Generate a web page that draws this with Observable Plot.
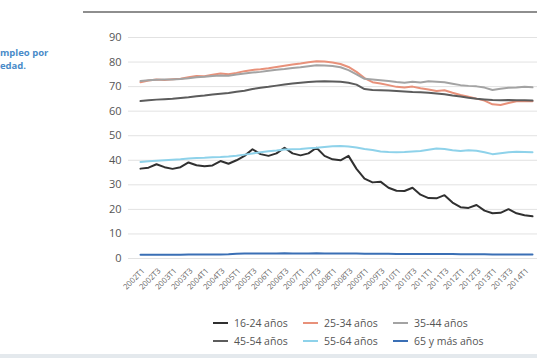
<!DOCTYPE html>
<html><head><meta charset="utf-8">
<script src="https://cdn.jsdelivr.net/npm/d3@7"></script>
<script src="https://cdn.jsdelivr.net/npm/@observablehq/plot@0.6"></script>
<style>
html,body{margin:0;padding:0;background:#fff;}
body{width:537px;height:358px;overflow:hidden;position:relative;font-family:"Open Sans",sans-serif;}
#chart{position:absolute;left:0;top:0;width:570px;}
#chart svg{max-width:none !important;}
.ttl{position:absolute;font-weight:bold;font-size:9.5px;color:#4a8bc9;white-space:nowrap;left:0;}
.topline{position:absolute;left:83px;top:11px;width:460px;height:2px;background:#8e8e8e;}
.bottomband{position:absolute;left:0;top:354px;width:537px;height:4px;background:#e4e9ed;}
.leg{position:absolute;font-size:10.5px;color:#555;white-space:nowrap;display:flex;align-items:center;}
.leg i{display:inline-block;width:15px;height:2px;margin-right:6px;}
</style></head>
<body>
<div class="topline"></div>
<div class="ttl" style="top:46px;">mpleo por</div>
<div class="ttl" style="top:59px;">edad.</div>
<div id="chart"></div>
<div id="legend"></div>
<div class="bottomband"></div>
<script>
const quarters = ["2002T1","2002T2","2002T3","2002T4","2003T1","2003T2","2003T3","2003T4","2004T1","2004T2","2004T3","2004T4","2005T1","2005T2","2005T3","2005T4","2006T1","2006T2","2006T3","2006T4","2007T1","2007T2","2007T3","2007T4","2008T1","2008T2","2008T3","2008T4","2009T1","2009T2","2009T3","2009T4","2010T1","2010T2","2010T3","2010T4","2011T1","2011T2","2011T3","2011T4","2012T1","2012T2","2012T3","2012T4","2013T1","2013T2","2013T3","2013T4","2014T1","2014T2","2014T3","2014T4"];
const tickLabels = ["2002T1","2002T3","2003T1","2003T3","2004T1","2004T3","2005T1","2005T3","2006T1","2006T3","2007T1","2007T3","2008T1","2008T3","2009T1","2009T3","2010T1","2010T3","2011T1","2011T3","2012T1","2012T3","2013T1","2013T3","2014T1"];
const seriesNames = ["16-24 años","25-34 años","35-44 años","45-54 años","55-64 años","65 y más años"];
const seriesColors = ["#303030","#e8917a","#a3a3a3","#5c5c5c","#8ed2ea","#3a6fb5"];

const s16_24 = [36.6,37.0,38.4,37.2,36.5,37.2,39.1,38.0,37.6,37.9,39.7,38.6,40.0,41.8,44.5,42.5,41.8,42.8,45.1,42.8,42.0,42.8,45.1,41.8,40.4,40.0,41.8,36.5,32.5,31.0,31.3,28.8,27.6,27.5,28.8,26.0,24.6,24.5,25.8,22.8,20.9,20.6,21.8,19.5,18.4,18.6,20.1,18.4,17.6,17.2];
const s25_34 = [71.8,72.5,72.9,72.7,73.0,73.2,73.8,74.3,74.2,74.8,75.3,75.0,75.6,76.3,76.8,77.1,77.5,78.0,78.5,79.0,79.4,79.9,80.3,80.2,79.8,79.2,78.0,76.0,73.5,71.8,71.3,70.6,69.9,69.6,70.0,69.3,68.8,68.2,68.5,67.5,66.6,65.9,65.1,64.3,62.8,62.5,63.3,64.0,64.1,64.0];
const s35_44 = [72.3,72.6,72.8,72.9,72.9,73.1,73.4,73.8,74.0,74.3,74.5,74.4,74.9,75.3,75.7,76.0,76.5,76.9,77.2,77.6,77.9,78.3,78.7,78.6,78.4,77.9,76.7,75.0,73.2,72.9,72.6,72.3,71.9,71.6,72.0,71.7,72.2,72.0,71.8,71.2,70.6,70.3,70.1,69.6,68.6,69.1,69.5,69.6,69.9,69.7];
const s45_54 = [64.1,64.4,64.7,64.9,65.1,65.4,65.7,66.1,66.4,66.8,67.1,67.4,67.9,68.3,69.0,69.5,69.9,70.4,70.9,71.3,71.6,71.9,72.1,72.2,72.1,72.0,71.6,70.8,69.0,68.6,68.5,68.4,68.2,68.0,67.8,67.7,67.5,67.2,66.9,66.4,66.0,65.5,65.1,64.8,64.5,64.4,64.5,64.4,64.4,64.3];
const s55_64 = [39.3,39.6,39.8,40.0,40.2,40.4,40.7,40.9,41.0,41.2,41.3,41.5,41.8,42.3,42.8,43.3,43.7,44.0,44.4,44.5,44.6,44.9,45.1,45.4,45.7,45.8,45.6,45.2,44.6,44.2,43.6,43.4,43.3,43.4,43.6,43.8,44.3,44.8,44.6,44.1,43.8,44.1,43.9,43.3,42.5,42.9,43.3,43.5,43.4,43.3];
const s65 = [1.5,1.5,1.5,1.5,1.5,1.5,1.6,1.6,1.6,1.6,1.6,1.7,1.9,2.0,2.0,2.0,2.0,2.0,2.1,2.0,2.0,2.0,2.1,2.0,2.0,2.0,2.0,2.0,1.9,1.9,1.9,1.9,1.8,1.8,1.8,1.8,1.8,1.8,1.8,1.8,1.7,1.7,1.7,1.7,1.6,1.6,1.6,1.6,1.6,1.6];
const yTicks = [0,10,20,30,40,50,60,70,80,90];

const allSeries = [s16_24,s25_34,s35_44,s45_54,s55_64,s65];
const rows = [];
allSeries.forEach((arr, k) => arr.forEach((v, i) => rows.push({q: quarters[i], v, s: seriesNames[k]})));

const W = 570, H = 310;
const plot = Plot.plot({
  width: W, height: H,
  marginLeft: 128, marginRight: 10, marginTop: 37, marginBottom: H - 258,
  style: {fontFamily: "'Open Sans', sans-serif", background: "transparent", maxWidth: "none"},
  x: {type: "point", domain: quarters, padding: 0.5},
  y: {domain: [0, 90]},
  color: {domain: seriesNames, range: seriesColors},
  marks: [
    Plot.ruleY(yTicks, {stroke: "#e2e2e2", strokeWidth: 1}),
    Plot.axisY({ticks: yTicks, tickSize: 0, tickPadding: 7, fontSize: 11, color: "#555", label: null, tickFormat: d => d}),
    Plot.axisX({ticks: tickLabels, tickSize: 0, tickPadding: 11, tickRotate: -45, fontSize: 7.8, color: "#666", label: null, dx: 3}),
    Plot.line(rows, {x: "q", y: "v", z: "s", stroke: "s", strokeWidth: 2})
  ]
});
document.getElementById("chart").appendChild(plot);

const legendPos = [[213,316],[303,316],[393,316],[213,334],[303,334],[393,334]];
const leg = document.getElementById("legend");
seriesNames.forEach((n, k) => {
  const d = document.createElement("div");
  d.className = "leg";
  d.style.left = legendPos[k][0] + "px";
  d.style.top = legendPos[k][1] + "px";
  d.innerHTML = `<i style="background:${seriesColors[k]}"></i>${n}`;
  leg.appendChild(d);
});
</script>
</body></html>
